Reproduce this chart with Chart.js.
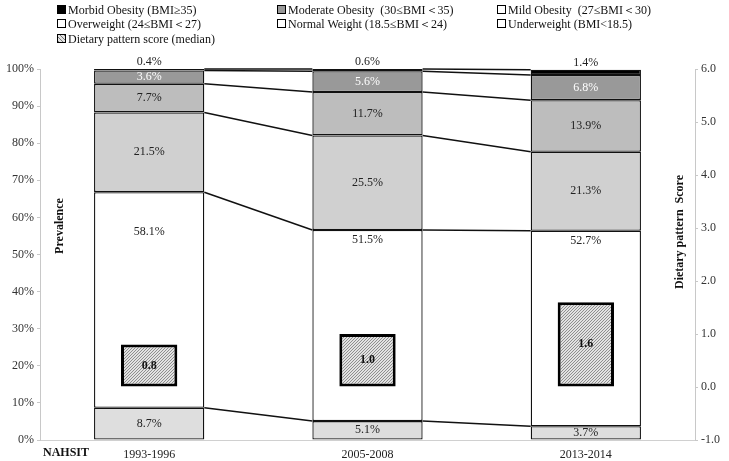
<!DOCTYPE html>
<html>
<head>
<meta charset="utf-8">
<script src="https://cdn.jsdelivr.net/npm/chart.js@4.4.1/dist/chart.umd.min.js"></script>
<style>
  body { margin: 0; background: #fff; }
  #wrap { position: relative; width: 729px; height: 461px; }
  #legend { position: absolute; left: 0; top: 0; width: 729px; height: 60px; font-family: 'Liberation Serif', serif; font-size: 12px; color: #111; }
  .item { position: absolute; white-space: pre; line-height: 15px; }
  .box { display: inline-block; width: 7px; height: 7px; border: 1.5px solid #000; margin-right: 2px; vertical-align: 0px; }
</style>
</head>
<body>
<div id="wrap">
  <canvas id="myChart" width="729" height="461"></canvas>
  <div id="legend"></div>
</div>
<script>
// categories and series (percent of population)
const years = ['1993-1996', '2005-2008', '2013-2014'];
const underweight = [8.7, 5.1, 3.7];
const normalWeight = [58.1, 51.5, 52.7];
const overweight = [21.5, 25.5, 21.3];
const mildObesity = [7.7, 11.7, 13.9];
const moderateObesity = [3.6, 5.6, 6.8];
const morbidObesity = [0.4, 0.6, 1.4];
// dietary pattern score (median), right axis
const dietaryScore = [0.8, 1.0, 1.6];

const percentTicks = [0, 10, 20, 30, 40, 50, 60, 70, 80, 90, 100];
const scoreTicks = [-1, 0, 1, 2, 3, 4, 5, 6];

const serif = 'Liberation Serif';

// fine diagonal hatching for the score boxes
function hatch() {
    const c = document.createElement('canvas');
    c.width = 3; c.height = 3;
    const g = c.getContext('2d');
    g.fillStyle = '#e2e2e2';
    g.fillRect(0, 0, 3, 3);
    g.strokeStyle = '#858585';
    g.lineWidth = 0.9;
    g.beginPath();
    g.moveTo(0, 3); g.lineTo(3, 0);
    g.moveTo(-1, 1); g.lineTo(1, -1);
    g.moveTo(2, 4); g.lineTo(4, 2);
    g.stroke();
    return g.createPattern(c, 'repeat');
}

function seg(label, values, color, legendFill, textColor, place) {
    return {
        label: label,
        data: values,
        backgroundColor: color,
        borderColor: '#111',
        borderWidth: 1.3,
        borderSkipped: false,
        categoryPercentage: 1,
        barPercentage: 0.505,
        yAxisID: 'y',
        order: 1,
        legendFill: legendFill,
        textColor: textColor,
        place: place
    };
}

const data = {
    labels: years,
    datasets: [
        seg('Underweight (BMI<18.5)', underweight, '#dedede', '#fff', '#222', 'center'),
        seg('Normal Weight (18.5\u2264BMI\uff1c24)', normalWeight, '#ffffff', '#fff', '#222', 'top'),
        seg('Overweight (24\u2264BMI\uff1c27)', overweight, '#d0d0d0', '#fff', '#222', 'center'),
        seg('Mild Obesity  (27\u2264BMI\uff1c30)', mildObesity, '#bdbdbd', '#fff', '#222', 'center'),
        seg('Moderate Obesity  (30\u2264BMI\uff1c35)', moderateObesity, '#999999', '#999', '#fff', 'center'),
        seg('Morbid Obesity (BMI\u226535)', morbidObesity, '#000000', '#000', '#222', 'above'),
        {
            label: 'Dietary pattern score (median)',
            data: dietaryScore,
            backgroundColor: hatch(),
            borderColor: '#000',
            borderWidth: 3,
            borderSkipped: false,
            categoryPercentage: 1,
            barPercentage: 0.258,
            yAxisID: 'y1',
            order: 0
        }
    ]
};

const annotate = {
    id: 'annotate',
    afterDatasetsDraw(chart) {
        const ctx = chart.ctx;
        const y = chart.scales.y;
        const area = chart.chartArea;
        ctx.save();
        // connector lines between segment boundaries
        ctx.strokeStyle = '#111';
        ctx.lineWidth = 1.5;
        for (let d = 0; d < 6; d++) {
            const bars = chart.getDatasetMeta(d).data;
            for (let i = 0; i < bars.length - 1; i++) {
                const a = bars[i], b = bars[i + 1];
                ctx.beginPath();
                ctx.moveTo(a.x + a.width / 2, a.y);
                ctx.lineTo(b.x - b.width / 2, b.y);
                ctx.stroke();
            }
        }
        // segment labels
        ctx.font = '12px "' + serif + '"';
        ctx.textAlign = 'center';
        ctx.textBaseline = 'middle';
        for (let d = 0; d < 6; d++) {
            const ds = chart.data.datasets[d];
            const bars = chart.getDatasetMeta(d).data;
            bars.forEach((el, i) => {
                let ty = (el.y + el.base) / 2;
                if (ds.place === 'above') ty = el.y - 7;
                if (ds.place === 'top') ty = Math.max(el.y + 10, y.getPixelForValue(56));
                ctx.fillStyle = ds.textColor;
                ctx.fillText(ds.data[i].toFixed(1) + '%', el.x, ty);
            });
        }
        // score labels
        ctx.font = 'bold 12px "' + serif + '"';
        ctx.fillStyle = '#111';
        chart.getDatasetMeta(6).data.forEach((el, i) => {
            ctx.fillText(dietaryScore[i].toFixed(1), el.x, (el.y + el.base) / 2);
        });
        // axis titles
        ctx.font = 'bold 12px "' + serif + '"';
        ctx.save();
        ctx.translate(area.left + 20, 226);
        ctx.rotate(-Math.PI / 2);
        ctx.fillText('Prevalence', 0, 0);
        ctx.restore();
        ctx.save();
        ctx.translate(area.right - 15, 232);
        ctx.rotate(-Math.PI / 2);
        ctx.fillText('Dietary pattern  Score', 0, 0);
        ctx.restore();
        ctx.fillText('NAHSIT', 66, area.bottom + 13);
        ctx.restore();
    }
};

const config = {
    type: 'bar',
    data: data,
    options: {
        responsive: false,
        animation: false,
        devicePixelRatio: 1,
        layout: { padding: { top: 69, left: 0, right: 0, bottom: 0 } },
        plugins: {
            legend: { display: false },
            tooltip: { enabled: false }
        },
        scales: {
            x: {
                stacked: true,
                offset: true,
                grid: { display: false },
                border: { color: '#d0d0d0' },
                ticks: { color: '#222', font: { family: serif, size: 12 }, padding: 0 },
                afterFit(s) { s.height = 21; }
            },
            y: {
                stacked: true,
                min: 0,
                max: 100,
                afterBuildTicks(s) { s.ticks = percentTicks.map(v => ({ value: v })); },
                ticks: { color: '#333', font: { family: serif, size: 12 }, padding: 3, callback: v => v + '%' },
                grid: { drawOnChartArea: false, tickLength: 3, color: '#c8c8c8' },
                border: { color: '#c8c8c8' },
                afterFit(s) { s.width = 40; }
            },
            y1: {
                position: 'right',
                min: -1,
                max: 6,
                afterBuildTicks(s) { s.ticks = scoreTicks.map(v => ({ value: v })); },
                ticks: { color: '#333', font: { family: serif, size: 12 }, padding: 3, callback: v => Number(v).toFixed(1) },
                grid: { drawOnChartArea: false, tickLength: 3, color: '#c8c8c8' },
                border: { color: '#c8c8c8' },
                afterFit(s) { s.width = 34; }
            }
        }
    },
    plugins: [annotate]
};

const myChart = new Chart(document.getElementById('myChart'), config);

// legend in three columns, built from the datasets
const order = [5, 4, 3, 2, 1, 0, 6];
const colX = [57, 277, 497];
const rowY = [3, 17, 32];
const legend = document.getElementById('legend');
order.forEach((d, k) => {
    const ds = myChart.data.datasets[d];
    const item = document.createElement('div');
    item.className = 'item';
    item.style.left = colX[k % 3] + 'px';
    item.style.top = rowY[Math.floor(k / 3)] + 'px';
    const box = document.createElement('span');
    box.className = 'box';
    if (d === 6) {
        box.style.background = 'repeating-linear-gradient(45deg, #777 0 1px, #e2e2e2 1px 3px)';
    } else {
        box.style.background = ds.legendFill;
    }
    item.appendChild(box);
    item.appendChild(document.createTextNode(ds.label));
    legend.appendChild(item);
});
</script>
</body>
</html>
